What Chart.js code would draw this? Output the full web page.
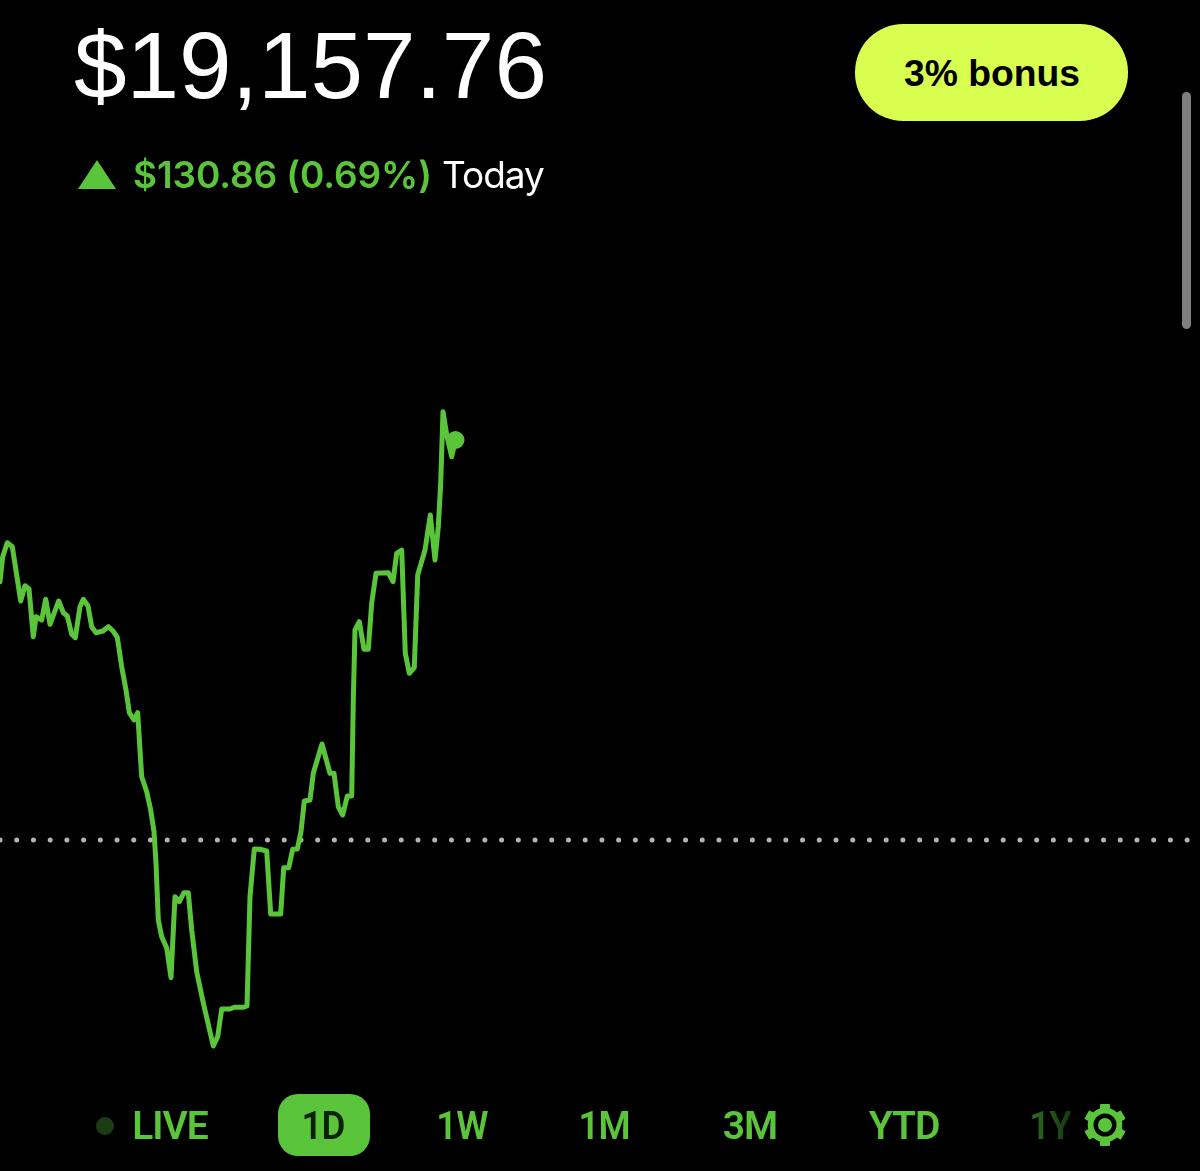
<!DOCTYPE html>
<html><head><meta charset="utf-8">
<script src="https://cdn.jsdelivr.net/npm/chart.js@4"></script>
<style>
html,body{margin:0;padding:0;background:#000;width:1200px;height:1171px;overflow:hidden}
canvas{position:absolute;left:0;top:0}
.t{position:absolute;white-space:nowrap;line-height:1;font-family:Inter,sans-serif}
.c{transform:translateX(-50%)}
.s{transform:translateX(-50%) scaleX(.94)}
.n{font-family:Roboto,sans-serif;font-weight:600;font-size:39px;letter-spacing:-1px;color:#5ac53b;top:1107px}
</style></head><body>
<canvas id="c" width="1200" height="1171"></canvas>
<div class="t" id="bal" style="left:74px;top:18px;font-size:94.5px;color:#fff;font-weight:400;font-family:'Liberation Sans',sans-serif">$19,157.76</div>
<svg class="t" style="left:78px;top:160px" width="38" height="29"><polygon points="19,0 38,29 0,29" fill="#5ac53b"/></svg>
<div class="t" style="left:133px;top:156px;font-size:37px;font-weight:600;letter-spacing:-.1px;color:#5ac53b">$130.86 (0.69%)</div>
<div class="t" style="left:442px;top:156px;font-size:37px;font-weight:400;letter-spacing:-1px;color:#fff">Today</div>
<div style="position:absolute;left:855px;top:24px;width:273px;height:97px;border-radius:48px;background:#d8ff50"></div>
<div class="t c" style="left:992px;top:55px;font-size:37.3px;font-weight:700;font-family:'Liberation Sans',sans-serif;color:#000">3% bonus</div>
<div style="position:absolute;left:1182px;top:92px;width:9px;height:237px;border-radius:5px;background:#7f7f7f"></div>
<div style="position:absolute;left:96px;top:1117px;width:18px;height:18px;border-radius:50%;background:#1a3d14"></div>
<div class="t n c" style="left:170px">LIVE</div>
<div style="position:absolute;left:278px;top:1094px;width:92px;height:62px;border-radius:20px;background:#5ac53b"></div>
<div class="t n s" style="left:323px;color:#0c2207">1D</div>
<div class="t n s" style="left:462px">1W</div>
<div class="t n s" style="left:604px">1M</div>
<div class="t n c" style="left:750px">3M</div>
<div class="t n c" style="left:904px">YTD</div>
<div class="t n s" style="left:1050px;background:linear-gradient(90deg,#2f6d22,#173a10);-webkit-background-clip:text;background-clip:text;color:transparent">1Y</div>
<svg class="t" style="left:1083px;top:1103px" width="44" height="44" viewBox="0 0 44 44">
<g fill="#5ac53b"><rect x="17" y="1" width="10" height="42" rx="1"/>
<rect x="17" y="1" width="10" height="42" rx="1" transform="rotate(60 22 22)"/>
<rect x="17" y="1" width="10" height="42" rx="1" transform="rotate(120 22 22)"/></g>
<circle cx="22" cy="22" r="13.5" fill="none" stroke="#5ac53b" stroke-width="7.5"/>
<circle cx="22" cy="22" r="11.5" fill="#000"/>
<circle cx="22" cy="22" r="7" fill="#5ac53b"/>
</svg>
<script>
const sessionTicks = [0,2.7,7.3,12.3,16.7,20.7,25,29,33.3,36,41.7,45.7,50,58.7,63.3,67.3,71.7,75.3,80,83.3,88,91.7,96,103,108.3,113,117.3,121.7,126,129.3,134,137.7,140,141.7,146.7,150.7,154,156,158.3,161.7,166.7,171,175,179.3,184,188.3,191.7,196.7,203.3,213.3,217.7,221.7,230,234.3,243.3,247,250,254.3,260,266.7,270.7,280.7,283.7,288.7,292.7,297.3,301,304.3,310,313.3,322,330,334,338.3,342.7,347.3,351.7,353.3,355,359.3,364,368.3,371.7,376,388.3,393,396.7,401.7,405.3,409.3,414.3,417.7,425,430.3,435,438.3,440.7,443,446.7,451.7,455.5];
const portfolioValue = [19111.40,19119.58,19124.16,19122.85,19113.59,19105.09,19110.09,19109.01,19093.41,19099.95,19098.87,19105.65,19097.47,19105.09,19101.26,19100.18,19094.20,19093.08,19103.22,19105.65,19103.45,19096.68,19094.72,19095.27,19096.68,19095.27,19093.21,19083.59,19075.97,19068.55,19066.16,19068.55,19056.34,19047.61,19042.70,19036.71,19029.62,19019.38,19000.73,18995.26,18991.57,18981.85,19008.35,19006.71,19009.66,19009.66,18997.46,18983.81,18973.57,18959.51,18962.55,18971.61,18971.61,18972.17,18972.17,18972.59,19008.35,19023.96,19023.86,19023.30,19002.69,19002.69,19017.84,19017.84,19023.86,19023.96,19029.62,19039.66,19039.99,19048.72,19058.31,19048.72,19048.72,19037.79,19035.08,19041.29,19041.29,19072.70,19095.60,19098.32,19089.29,19089.29,19104.43,19114.15,19114.35,19111.40,19120.69,19121.77,19087.98,19081.44,19083.27,19113.59,19121.77,19133.22,19118.50,19129.40,19143.69,19167.02,19159.40,19152.30,19157.76];
const prevCloseTicks = [0,1200];
const prevCloseValue = [19026.90,19026.90];
const GREEN = '#5ac53b';
const toPts = (xs,ys)=>xs.map((x,i)=>({x,y:ys[i]}));
new Chart(document.getElementById('c'),{
  type:'line',
  data:{datasets:[
    {label:'Portfolio',data:toPts(sessionTicks,portfolioValue),borderColor:GREEN,backgroundColor:GREEN,borderWidth:5,tension:0,
     borderJoinStyle:'round',borderCapStyle:'round',order:1,
     pointRadius:c=>c.dataIndex===portfolioValue.length-1?9:0,pointBorderWidth:0,pointBackgroundColor:GREEN},
    {label:'Previous close',data:toPts(prevCloseTicks,prevCloseValue),borderColor:'#b4b4b8',borderWidth:5,borderCapStyle:'round',borderDash:[0,16.72],pointRadius:0,tension:0,order:2}
  ]},
  options:{responsive:false,animation:false,devicePixelRatio:1,
    layout:{padding:0,autoPadding:false},
    plugins:{legend:{display:false},tooltip:{enabled:false},title:{display:false}},
    scales:{
      x:{type:'linear',display:false,min:0,max:1200},
      y:{type:'linear',display:false,min:18918.61,max:19301.71}
    }}
});
</script>
</body></html>
